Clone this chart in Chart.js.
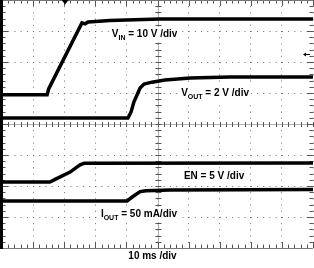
<!DOCTYPE html>
<html>
<head>
<meta charset="utf-8">
<script src="https://cdn.jsdelivr.net/npm/chart.js@4/dist/chart.umd.min.js"></script>
<style>
html,body{margin:0;padding:0;background:#fff;}
#wrap{width:314px;height:268px;}
</style>
</head>
<body>
<div id="wrap"><canvas id="c" width="314" height="268"></canvas></div>
<script>
// time axis in ms (10 ms/div, 10 divisions); vertical values in screen divisions (8 divisions)
const vinT  = [0, 14.5, 15.0, 25.7, 26.7, 27.7, 34.7, 50.8, 100];
const vinV  = [4.94, 4.94, 5.13, 7.26, 7.23, 7.29, 7.34, 7.39, 7.39];
const voutT = [0, 40.5, 41.5, 42.4, 44.4, 45.7, 48.2, 52.4, 60.5, 73.3, 100];
const voutV = [4.19, 4.19, 4.39, 4.71, 5.16, 5.29, 5.35, 5.42, 5.48, 5.52, 5.52];
const enT   = [0, 15.4, 17.4, 21.9, 25.1, 26.4, 100];
const enV   = [2.13, 2.13, 2.23, 2.45, 2.68, 2.73, 2.74];
const ioutT = [0, 40.2, 42.1, 44.4, 46.3, 54.0, 100];
const ioutV = [1.52, 1.52, 1.66, 1.82, 1.85, 1.87, 1.89];
const triggerT = 20.3;
const triggerLevel = 6.26;
const xLabel = "10 ms /div";
// trace labels: [main, subscript, rest, anchor time, anchor div]
const labels = [
  ["V", "IN", " = 10 V /div", 35.3, 6.80],
  ["V", "OUT", " = 2 V /div", 57.6, 4.90],
  ["EN", "", " = 5 V /div", 58.5, 2.23],
  ["I", "OUT", " = 50 mA/div", 31.8, 1.00]
];

function pts(t, v){ return t.map((x,i)=>({x:x, y:v[i]})); }

const FONT = "'Liberation Sans', Arial, sans-serif";

const scopePlugin = {
  id: 'scope',
  beforeDatasetsDraw(chart){
    const ctx = chart.ctx, a = chart.chartArea;
    const xs = chart.scales.x, ys = chart.scales.y;
    ctx.save();
    const cx = Math.round(xs.getPixelForValue(50)) + 0.5;
    const cy = Math.round(ys.getPixelForValue(4)) + 0.5;
    ctx.strokeStyle = '#b0b0b0';
    ctx.lineWidth = 1;
    ctx.beginPath();
    ctx.moveTo(cx, a.top); ctx.lineTo(cx, a.bottom);
    ctx.moveTo(a.left, cy); ctx.lineTo(a.right, cy);
    ctx.stroke();
    ctx.strokeStyle = '#555';
    ctx.beginPath();
    for (let i = 0; i <= 50; i++){
      const t = i * 2;
      const px = Math.round(xs.getPixelForValue(t)) + 0.5;
      const major = (i % 5 === 0);
      const L = major ? 6 : 3.5;
      ctx.moveTo(px, cy - 2.5); ctx.lineTo(px, cy + 2.5);
      ctx.moveTo(px, a.top); ctx.lineTo(px, a.top + L);
      ctx.moveTo(px, a.bottom); ctx.lineTo(px, a.bottom - L);
    }
    for (let i = 0; i <= 40; i++){
      const v = i * 0.2;
      const py = Math.round(ys.getPixelForValue(v)) + 0.5;
      const major = (i % 5 === 0);
      const L = major ? 6 : 3.5;
      ctx.moveTo(cx - 3, py); ctx.lineTo(cx + 3, py);
      ctx.moveTo(a.left, py); ctx.lineTo(a.left + L, py);
      ctx.moveTo(a.right, py); ctx.lineTo(a.right - L, py);
    }
    ctx.stroke();
    ctx.strokeStyle = '#777';
    ctx.beginPath();
    ctx.moveTo(a.left, a.bottom + 0.5); ctx.lineTo(a.right, a.bottom + 0.5);
    ctx.moveTo(a.left, a.top + 0.5); ctx.lineTo(a.right, a.top + 0.5);
    ctx.stroke();
    ctx.fillStyle = '#000';
    ctx.fillRect(0, a.top, a.left + 1, a.bottom - a.top + 1);
    ctx.restore();
  },
  afterDatasetsDraw(chart){
    const ctx = chart.ctx, a = chart.chartArea;
    const xs = chart.scales.x, ys = chart.scales.y;
    ctx.save();
    const tx = xs.getPixelForValue(triggerT);
    ctx.fillStyle = '#000';
    ctx.beginPath();
    ctx.moveTo(tx - 3.5, a.top); ctx.lineTo(tx + 3.5, a.top); ctx.lineTo(tx, a.top + 4.5);
    ctx.closePath(); ctx.fill();
    const ly = Math.round(ys.getPixelForValue(triggerLevel)) + 0.5;
    ctx.strokeStyle = '#000';
    ctx.lineWidth = 1;
    ctx.beginPath();
    ctx.moveTo(a.right - 9, ly); ctx.lineTo(a.right - 3, ly);
    ctx.stroke();
    ctx.beginPath();
    ctx.moveTo(a.right - 10, ly); ctx.lineTo(a.right - 7, ly - 2); ctx.lineTo(a.right - 7, ly + 2);
    ctx.closePath(); ctx.fill();
    ctx.textBaseline = 'alphabetic';
    ctx.textAlign = 'left';
    labels.forEach(l => {
      const x0 = xs.getPixelForValue(l[3]);
      const base = ys.getPixelForValue(l[4]);
      ctx.font = 'bold 10px ' + FONT;
      const w1 = ctx.measureText(l[0]).width;
      const w3 = ctx.measureText(l[2]).width;
      ctx.font = 'bold 7px ' + FONT;
      const w2 = l[1] ? ctx.measureText(l[1]).width : 0;
      ctx.fillStyle = '#fff';
      ctx.fillRect(x0 - 2, base - 10, w1 + w2 + w3 + 4, 15);
      ctx.fillStyle = '#000';
      ctx.font = 'bold 10px ' + FONT;
      ctx.fillText(l[0], x0, base);
      ctx.font = 'bold 7px ' + FONT;
      if (l[1]) ctx.fillText(l[1], x0 + w1, base + 3);
      ctx.font = 'bold 10px ' + FONT;
      ctx.fillText(l[2], x0 + w1 + w2, base);
    });
    ctx.font = 'bold 10px ' + FONT;
    ctx.textAlign = 'center';
    ctx.fillText(xLabel, (a.left + a.right) / 2 - 5, a.bottom + 11);
    ctx.restore();
  }
};

const mk = (t, v) => ({
  data: pts(t, v),
  borderColor: '#000',
  borderWidth: 3.5,
  pointRadius: 0,
  tension: 0,
  fill: false
});

new Chart(document.getElementById('c'), {
  type: 'line',
  data: { datasets: [mk(vinT, vinV), mk(voutT, voutV), mk(enT, enV), mk(ioutT, ioutV)] },
  options: {
    responsive: false,
    animation: false,
    devicePixelRatio: 1,
    layout: { padding: { left: 2, right: 1, top: 0, bottom: 20 } },
    plugins: { legend: { display: false }, tooltip: { enabled: false } },
    scales: {
      x: {
        type: 'linear', min: 0, max: 100,
        ticks: { display: false, stepSize: 10 },
        grid: { color: '#707070', lineWidth: 1, drawTicks: false },
        border: { display: false, dash: [1, 5.2] },
        afterFit(s){ s.height = 0; }
      },
      y: {
        type: 'linear', min: 0, max: 8,
        ticks: { display: false, stepSize: 1 },
        grid: { color: '#707070', lineWidth: 1, drawTicks: false },
        border: { display: false, dash: [1, 5.22] },
        afterFit(s){ s.width = 0; }
      }
    }
  },
  plugins: [scopePlugin]
});
</script>
</body>
</html>
